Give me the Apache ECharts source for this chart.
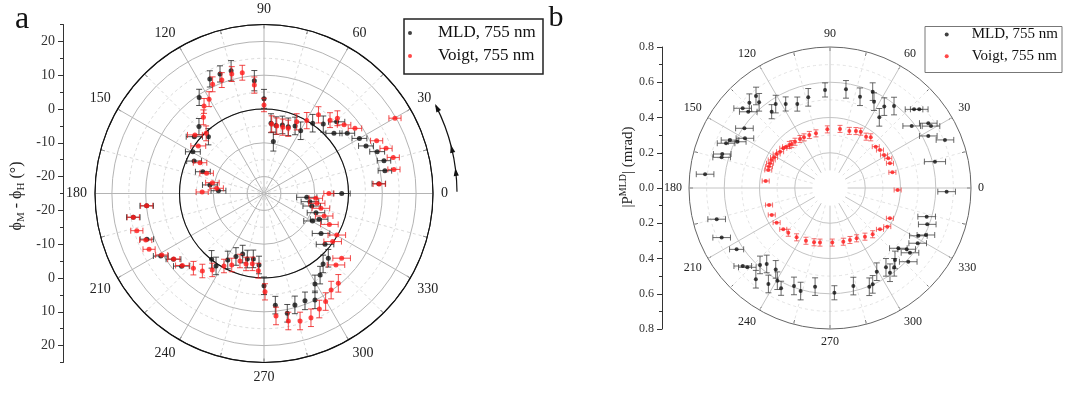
<!DOCTYPE html>
<html>
<head>
<meta charset="utf-8">
<script src="https://cdn.jsdelivr.net/npm/echarts@6/dist/echarts.min.js"></script>
<style>
  html, body { margin: 0; padding: 0; background: #fff; }
  #chart { width: 1068px; height: 394px; }
</style>
</head>
<body>
<div id="chart"></div>
<script>
// Panel a: [field angle (deg), phi_M - phi_H (deg), error (deg)]
const mldA = [
  [0, -2.0, 2.5], [4.9, 9.1, 2.0], [10.7, 11.4, 2.0], [15.3, 11.8, 2.0], [20.3, 10.7, 2.2],
  [25, 8.3, 2.2], [30, 7.6, 2.2], [35.9, 5.4, 2.2], [40.7, 2.3, 2.4], [44.6, 5.2, 2.4],
  [49.5, 2.0, 2.4], [55.3, 0.3, 2.6], [59.7, -3.5, 2.6], [65.3, -3.0, 2.6], [70, -4.0, 2.6],
  [75, -4.0, 2.6], [79.8, -9.4, 2.8], [80, -4.6, 2.6], [84.3, -4.1, 2.8], [90, 3.0, 2.8],
  [94.9, 8.5, 3.0], [105, 12.6, 3.0], [110.2, 12.7, 2.4], [115.3, 12.5, 2.4], [124, 9.3, 2.4],
  [134.2, 2.6, 2.4], [134.4, -1.5, 2.4], [140.8, 1.6, 2.4], [149.6, -0.6, 2.2], [155.1, -2.2, 2.2],
  [160.4, -5.8, 2.2], [171, -8.8, 2.2], [176.5, -11.5, 2.2], [186, 9.9, 2.0], [190.3, 14.3, 2.0],
  [201.3, 12.2, 2.0], [211.2, 10.7, 2.2], [216, 8.1, 2.2], [221.4, 7.5, 2.4], [231.5, -0.1, 2.6],
  [236.5, 0.7, 2.6], [241.4, -2.6, 2.6], [246, -4.6, 2.6], [250.6, -6.0, 2.6], [255.7, -5.0, 2.6],
  [260.7, -5.4, 2.6], [266, -3.8, 2.6], [270, 2.3, 2.6], [275.8, 8.2, 2.6], [281, 11.1, 2.6],
  [285.5, 9.2, 2.6], [290.9, 9.0, 2.6], [295.6, 9.9, 2.6], [299.4, 5.7, 2.6], [304.5, 4.3, 2.6],
  [310, 2.2, 2.6], [314.8, 2.0, 2.6], [320.2, -1.5, 2.6], [325, -4.4, 2.6], [330.5, -8.5, 2.6],
  [335, -7.0, 2.6], [339.7, -8.6, 2.6], [345.3, -10.4, 2.6], [349.9, -11.2, 2.6], [354.9, -12.3, 3.0]
];
const voigtA = [
  [0, -5.8, 1.5], [4.7, 9.2, 1.8], [10.5, 14.1, 1.8], [15.6, 14.7, 1.8], [20.3, 13.5, 1.8],
  [25.1, 11.8, 1.8], [29.9, 19.7, 1.8], [35.6, 8.1, 2.0], [40.6, 6.2, 2.0], [45.7, 6.1, 2.2],
  [48, 4.2, 2.2], [55.3, 3.3, 2.4], [59.6, 0.0, 2.4], [65.5, -1.7, 2.4], [69.6, -4.4, 2.4],
  [74.2, -4.6, 2.4], [79.3, -4.7, 2.4], [83.7, -4.3, 2.4], [90, 1.2, 2.0], [95.1, 7.2, 2.4],
  [100.2, 11.3, 2.2], [105.1, 11.6, 2.2], [110.4, 10.8, 2.2], [115.2, 10.7, 2.2], [120.2, 7.3, 2.2],
  [124.4, 6.4, 2.2], [128.5, 3.8, 2.2], [133.9, -0.3, 2.2], [139.7, 1.8, 2.2], [144.1, -1.0, 2.2],
  [154.3, -4.0, 2.0], [160.6, -7.0, 2.0], [168.2, -9.4, 2.0], [173.7, -10.9, 2.0], [178.6, -6.7, 1.8],
  [186, 9.9, 1.8], [190.3, 14.3, 1.8], [196.3, 14.2, 1.8], [201.5, 12.6, 1.8], [205.9, 12.8, 1.8],
  [211, 10.3, 1.8], [216, 8.0, 1.8], [221.4, 7.2, 2.0], [226.6, 5.4, 2.0], [231.5, 4.3, 2.0],
  [235.9, 2.3, 2.0], [241.1, -0.5, 2.0], [245.7, -1.8, 2.0], [250.4, -3.8, 2.0], [255.7, -3.5, 2.0],
  [260.6, -3.9, 2.0], [265.8, -2.1, 2.2], [270.6, 4.1, 2.4], [275.6, 11.4, 2.6], [280.8, 13.4, 2.6],
  [285.8, 14.2, 2.6], [290.7, 14.3, 2.6], [295.6, 12.9, 2.6], [299.7, 11.8, 2.6], [304.8, 9.8, 2.6],
  [309.6, 9.5, 2.6], [315.2, 5.0, 2.6], [320.2, 4.9, 2.6], [325, -0.2, 2.6], [330.3, -0.2, 2.6],
  [334.7, -3.6, 2.6], [339.5, -6.0, 2.6], [345.4, -7.6, 2.6], [349.5, -9.1, 2.4], [354.7, -9.6, 2.0]
];

// Panel b: [angle (deg), |P| (mrad), error (mrad)]
const mldB = [
  [14.1, 0.614, 0.06], [22.7, 0.707, 0.05], [27.9, 0.631, 0.05], [31.5, 0.672, 0.05], [33.4, 0.668, 0.05],
  [37.2, 0.582, 0.05], [41.4, 0.675, 0.05], [43.1, 0.653, 0.05], [52, 0.59, 0.05], [55.1, 0.489, 0.05],
  [56.3, 0.555, 0.05], [63, 0.55, 0.05], [66.1, 0.598, 0.05], [71.8, 0.545, 0.05], [80.8, 0.567, 0.05],
  [92.9, 0.557, 0.04], [103.5, 0.529, 0.05], [111.3, 0.511, 0.04], [117.8, 0.539, 0.04], [122.9, 0.567, 0.05],
  [127.4, 0.545, 0.04], [128.8, 0.67, 0.05], [129.6, 0.631, 0.05], [133.4, 0.666, 0.05], [137, 0.634, 0.05],
  [137.6, 0.671, 0.05], [145.1, 0.592, 0.05], [149.7, 0.559, 0.05], [153.5, 0.588, 0.05], [154.4, 0.629, 0.05],
  [156.7, 0.642, 0.05], [162.5, 0.641, 0.05], [164.2, 0.639, 0.05], [173.7, 0.713, 0.05], [195.4, 0.667, 0.05],
  [204.6, 0.676, 0.05], [213.3, 0.634, 0.04], [221.8, 0.664, 0.05], [223.8, 0.65, 0.05], [227.7, 0.59, 0.05],
  [230.2, 0.561, 0.05], [230.9, 0.667, 0.05], [236.3, 0.555, 0.05], [237.3, 0.647, 0.05], [240.4, 0.605, 0.05],
  [244, 0.633, 0.04], [249.8, 0.592, 0.05], [254.1, 0.608, 0.05], [261.4, 0.566, 0.05], [272.4, 0.595, 0.04],
  [283.4, 0.572, 0.05], [291.7, 0.603, 0.05], [293.9, 0.598, 0.05], [299.2, 0.544, 0.05], [305.2, 0.551, 0.05],
  [305.3, 0.589, 0.05], [309, 0.579, 0.05], [312.1, 0.55, 0.05], [316.7, 0.61, 0.05], [318.6, 0.517, 0.05],
  [321, 0.584, 0.05], [321.4, 0.557, 0.05], [327.8, 0.588, 0.05], [331.6, 0.57, 0.05], [333.9, 0.606, 0.05],
  [339.5, 0.589, 0.05], [343.5, 0.572, 0.05], [358.2, 0.662, 0.05]
];
const voigtB = [
  [14.1, 0.365, 0.02], [22.4, 0.368, 0.02], [27, 0.371, 0.02], [31.4, 0.359, 0.02], [37.2, 0.356, 0.02],
  [42.1, 0.35, 0.02], [51.2, 0.369, 0.02], [54.9, 0.356, 0.02], [61.4, 0.364, 0.02], [65.5, 0.355, 0.02],
  [71.3, 0.342, 0.02], [80.4, 0.34, 0.02], [92.6, 0.333, 0.02], [104.4, 0.32, 0.02], [111.3, 0.323, 0.02],
  [117.2, 0.323, 0.02], [121.5, 0.326, 0.02], [127.1, 0.329, 0.02], [131, 0.33, 0.02], [133.4, 0.336, 0.02],
  [136.8, 0.342, 0.02], [139.6, 0.348, 0.02], [144, 0.35, 0.02], [147.5, 0.359, 0.02], [151.3, 0.362, 0.02],
  [154.3, 0.367, 0.02], [157.6, 0.368, 0.02], [160.7, 0.367, 0.02], [163.7, 0.365, 0.02], [173.8, 0.367, 0.02],
  [195.6, 0.359, 0.02], [204.8, 0.364, 0.02], [213, 0.361, 0.02], [221.5, 0.354, 0.02], [227, 0.347, 0.02],
  [235.9, 0.338, 0.02], [245.5, 0.329, 0.02], [253.6, 0.321, 0.02], [259.6, 0.315, 0.02], [272.4, 0.31, 0.02],
  [283.9, 0.314, 0.02], [291, 0.316, 0.02], [297.9, 0.323, 0.02], [305.7, 0.34, 0.02], [312.7, 0.357, 0.02],
  [320.4, 0.368, 0.02], [326, 0.392, 0.02], [333.2, 0.381, 0.02], [358.3, 0.384, 0.02]
];

// Tick values of the radial scales (drawn on the left-hand rulers)
const radialTicksA = [-20, -10, 0, 10, 20];
const radialMinorA = [-25, -15, -5, 5, 15, 25];
const radialTicksB = [0, 0.2, 0.4, 0.6, 0.8];

const seriesNames = ['MLD, 755 nm', 'Voigt, 755 nm'];

// ---- layout ----
const SERIF = '"Liberation Serif", "DejaVu Serif", serif';
const A = { cx: 264, cy: 193.5, R: 169, min: -25, max: 25 };
const B = { cx: 830, cy: 188, R: 141, min: 0, max: 0.8 };
const rA = v => (v - A.min) / (A.max - A.min) * A.R;
const rB = v => (v - B.min) / (B.max - B.min) * B.R;

// signed distance from the centre (in value units) for the mirrored left rulers
const mirrorA = vals => vals.flatMap(v => [v - A.min, -(v - A.min)]);
const majorA = mirrorA(radialTicksA);
const minorA = mirrorA(radialMinorA);
const stepB = radialTicksB[1] - radialTicksB[0];

const toPolar = rows => rows.map(d => [d[1], d[0], d[2]]);

function errorBars(color, cap) {
  return function (params, api) {
    const r = api.value(0), a = api.value(1), e = api.value(2);
    const c = api.coord([r, a]);
    const hi = api.coord([r + e, a]);
    const lo = api.coord([r - e, a]);
    const h = Math.hypot(hi[0] - lo[0], hi[1] - lo[1]) / 2;
    const t = a * Math.PI / 180;
    const horiz = Math.abs(Math.cos(t)) >= Math.abs(Math.sin(t));
    const dx = horiz ? h : 0, dy = horiz ? 0 : h;
    const kx = horiz ? 0 : cap, ky = horiz ? cap : 0;
    const style = { stroke: color, lineWidth: 0.8, fill: null };
    return {
      type: 'group',
      children: [
        { type: 'line', shape: { x1: c[0] - dx, y1: c[1] - dy, x2: c[0] + dx, y2: c[1] + dy }, style },
        { type: 'line', shape: { x1: c[0] - dx - kx, y1: c[1] - dy - ky, x2: c[0] - dx + kx, y2: c[1] - dy + ky }, style },
        { type: 'line', shape: { x1: c[0] + dx - kx, y1: c[1] + dy - ky, x2: c[0] + dx + kx, y2: c[1] + dy + ky }, style }
      ]
    };
  };
}

function hiddenAngle(polarIndex) {
  return { polarIndex, type: 'value', min: 0, max: 360, startAngle: 0, clockwise: false, show: false };
}
function mainAngle(polarIndex, fontSize, margin, solid, dashed, ring) {
  return {
    polarIndex, type: 'value', min: 0, max: 360, interval: 30, startAngle: 0, clockwise: false,
    axisLine: { show: ring, lineStyle: { color: '#333', width: 1 } },
    axisTick: { show: true, inside: true, length: 4, lineStyle: { color: '#444' } },
    minorTick: { show: true, splitNumber: 2, length: 4, lineStyle: { color: '#444' } },
    axisLabel: { margin, color: '#222', fontFamily: SERIF, fontSize },
    splitLine: { show: true, lineStyle: { color: solid, width: 1 } },
    minorSplitLine: { show: true, lineStyle: { color: dashed, width: 0.8, type: [3, 3] } }
  };
}
const bare = { axisLine: { show: false }, axisTick: { show: false }, axisLabel: { show: false } };

// curved arrow (sense of rotation) next to panel a
function arrowGraphic() {
  const R = 193, from = 0.5, to = 27, heads = [27, 14, 7];
  const d2r = Math.PI / 180;
  const els = [{
    type: 'arc',
    shape: { cx: A.cx, cy: A.cy, r: R, startAngle: -to * d2r, endAngle: -from * d2r, clockwise: true },
    style: { stroke: '#111', lineWidth: 1.2, fill: null }
  }];
  heads.forEach(deg => {
    const t = deg * d2r;
    const px = A.cx + R * Math.cos(t), py = A.cy - R * Math.sin(t);
    const tx = -Math.sin(t), ty = -Math.cos(t);
    const nx = Math.cos(t), ny = -Math.sin(t);
    els.push({
      type: 'polygon',
      shape: { points: [
        [px + 2 * tx, py + 2 * ty],
        [px - 6 * tx + 2.6 * nx, py - 6 * ty + 2.6 * ny],
        [px - 6 * tx - 2.6 * nx, py - 6 * ty - 2.6 * ny]
      ] },
      style: { fill: '#111' }
    });
  });
  return els;
}

const chart = echarts.init(document.getElementById('chart'));

chart.setOption({
  animation: false,
  backgroundColor: '#fff',
  polar: [
    { center: [A.cx, A.cy], radius: [rA(-20), rA(20)] },
    { center: [A.cx, A.cy], radius: [0, A.R] },
    { center: [B.cx, B.cy], radius: [rB(0.2), B.R] },
    { center: [B.cx, B.cy], radius: [rB(0.1), B.R] }
  ],
  angleAxis: [
    hiddenAngle(0),
    mainAngle(1, 14, 8, '#b4b4b4', '#cfcfcf', true),
    hiddenAngle(2),
    mainAngle(3, 12, 7, '#c4c4c4', '#dcdcdc', false)
  ],
  radiusAxis: [
    Object.assign({ polarIndex: 0, type: 'value', min: -20, max: 20, interval: 10,
      splitLine: { show: true, lineStyle: { color: '#b4b4b4', width: 1 } },
      minorTick: { show: false, splitNumber: 2 },
      minorSplitLine: { show: true, lineStyle: { color: '#cfcfcf', width: 0.8, type: [3, 3] } } }, bare),
    Object.assign({ polarIndex: 1, type: 'value', min: A.min, max: A.max, interval: 25, z: 3,
      splitLine: { show: true, lineStyle: { color: '#111', width: 1.1 } } }, bare),
    // circles at 0.2 ... 0.8 mrad; the outermost one is the darker rim
    Object.assign({ polarIndex: 2, type: 'value', min: stepB, max: B.max, interval: stepB,
      splitLine: { show: true, lineStyle: { color: ['#c4c4c4', '#c4c4c4', '#c4c4c4', '#666'], width: 1 } },
      minorTick: { show: false, splitNumber: 2 },
      minorSplitLine: { show: true, lineStyle: { color: '#dcdcdc', width: 0.8, type: [3, 3] } } }, bare),
    Object.assign({ polarIndex: 3, type: 'value', min: 0.1, max: B.max, interval: 0.7,
      splitLine: { show: false } }, bare)
  ],
  grid: [
    { left: 63, top: A.cy - A.R, width: 1, height: 2 * A.R },
    { left: 662, top: B.cy - B.R, width: 1, height: 2 * B.R }
  ],
  xAxis: [
    { gridIndex: 0, show: false, type: 'value', min: 0, max: 1 },
    { gridIndex: 1, show: false, type: 'value', min: 0, max: 1 }
  ],
  yAxis: [
    { gridIndex: 0, position: 'left', type: 'value', min: -(A.max - A.min), max: A.max - A.min,
      axisLine: { show: true, lineStyle: { color: '#333' } },
      axisTick: { show: true, length: 5, customValues: majorA, lineStyle: { color: '#333' } },
      axisLabel: { customValues: majorA, margin: 8, color: '#333', fontFamily: SERIF, fontSize: 14,
        formatter: v => String(Math.round(Math.abs(v) + A.min)) },
      splitLine: { show: false } },
    { gridIndex: 0, position: 'left', type: 'value', min: -(A.max - A.min), max: A.max - A.min,
      axisLine: { show: false },
      axisTick: { show: true, length: 3, customValues: minorA, lineStyle: { color: '#333' } },
      axisLabel: { show: false }, splitLine: { show: false } },
    { gridIndex: 1, position: 'left', type: 'value', min: -B.max, max: B.max, interval: stepB,
      axisLine: { show: true, lineStyle: { color: '#333' } },
      axisTick: { show: true, length: 5, lineStyle: { color: '#333' } },
      minorTick: { show: true, splitNumber: 2, length: 3, lineStyle: { color: '#333' } },
      axisLabel: { margin: 8, color: '#333', fontFamily: SERIF, fontSize: 12,
        formatter: v => Math.abs(v).toFixed(1) },
      splitLine: { show: false } }
  ],
  legend: [
    { left: 408, top: 24.5, orient: 'vertical', padding: 0, itemGap: 6, itemWidth: 4, itemHeight: 4,
      icon: 'circle', selectedMode: false, data: seriesNames,
      formatter: n => '{t|' + n + '}',
      textStyle: { rich: { t: { fontFamily: SERIF, fontSize: 17, lineHeight: 20, color: '#111', padding: [0, 0, 0, 21] } } } },
    { left: 944.7, top: 27, orient: 'vertical', padding: 0, itemGap: 6.7, itemWidth: 4, itemHeight: 4,
      icon: 'circle', selectedMode: false, data: seriesNames,
      formatter: n => '{t|' + n + '}',
      textStyle: { rich: { t: { fontFamily: SERIF, fontSize: 15, lineHeight: 18, color: '#111', padding: [0, 0, 0, 18] } } } }
  ],
  series: [
    { name: 'MLD error a', type: 'custom', coordinateSystem: 'polar', polarIndex: 1,
      renderItem: errorBars('#222', 3), data: toPolar(mldA), z: 3 },
    { name: seriesNames[0], type: 'scatter', coordinateSystem: 'polar', polarIndex: 1,
      symbolSize: 5, itemStyle: { color: '#111' }, data: toPolar(mldA).map(d => [d[0], d[1]]), z: 4 },
    { name: 'Voigt error a', type: 'custom', coordinateSystem: 'polar', polarIndex: 1,
      renderItem: errorBars('#ee1c1c', 3), data: toPolar(voigtA), z: 5 },
    { name: seriesNames[1], type: 'scatter', coordinateSystem: 'polar', polarIndex: 1,
      symbolSize: 5, itemStyle: { color: '#ff1a1a' }, data: toPolar(voigtA).map(d => [d[0], d[1]]), z: 6 },

    { name: 'MLD error b', type: 'custom', coordinateSystem: 'polar', polarIndex: 3,
      renderItem: errorBars('#444', 3), data: toPolar(mldB), z: 3 },
    { name: seriesNames[0], type: 'scatter', coordinateSystem: 'polar', polarIndex: 3,
      symbolSize: 4, itemStyle: { color: '#111' }, data: toPolar(mldB).map(d => [d[0], d[1]]), z: 4 },
    { name: 'Voigt error b', type: 'custom', coordinateSystem: 'polar', polarIndex: 3,
      renderItem: errorBars('#f04a4a', 2.5), data: toPolar(voigtB), z: 5 },
    { name: seriesNames[1], type: 'scatter', coordinateSystem: 'polar', polarIndex: 3,
      symbolSize: 4, itemStyle: { color: '#ff1a1a' }, data: toPolar(voigtB).map(d => [d[0], d[1]]), z: 6 }
  ],
  graphic: [
    { type: 'text', x: 22, y: 20, style: { text: 'a', fontFamily: SERIF, fontSize: 32, fill: '#111', align: 'center', verticalAlign: 'middle' } },
    { type: 'text', x: 556, y: 18, style: { text: 'b', fontFamily: SERIF, fontSize: 30, fill: '#111', align: 'center', verticalAlign: 'middle' } },
    { type: 'text', x: 17, y: 196, rotation: Math.PI / 2,
      style: { text: '{m|ϕ}{s|M}{m| - ϕ}{s|H}{m| (°)}', align: 'center', verticalAlign: 'middle', fill: '#222',
        rich: { m: { fontFamily: SERIF, fontSize: 16, lineHeight: 20, verticalAlign: 'middle', fill: '#222' },
                s: { fontFamily: SERIF, fontSize: 11, lineHeight: 10, verticalAlign: 'bottom', fill: '#222' } } } },
    { type: 'text', x: 628, y: 167, rotation: Math.PI / 2,
      style: { text: '{m||P}{p|MLD}{m|| (mrad)}', align: 'center', verticalAlign: 'middle', fill: '#222',
        rich: { m: { fontFamily: SERIF, fontSize: 15, lineHeight: 20, verticalAlign: 'middle', fill: '#222' },
                p: { fontFamily: SERIF, fontSize: 10, lineHeight: 10, verticalAlign: 'top', fill: '#222' } } } },
    { type: 'rect', shape: { x: 404, y: 19, width: 139, height: 55 }, style: { stroke: '#222', lineWidth: 1.5, fill: null } },
    { type: 'rect', shape: { x: 925, y: 26.5, width: 137, height: 46 }, style: { stroke: '#777', lineWidth: 1, fill: null } },
    { type: 'group', children: arrowGraphic() }
  ]
});
</script>
</body>
</html>
